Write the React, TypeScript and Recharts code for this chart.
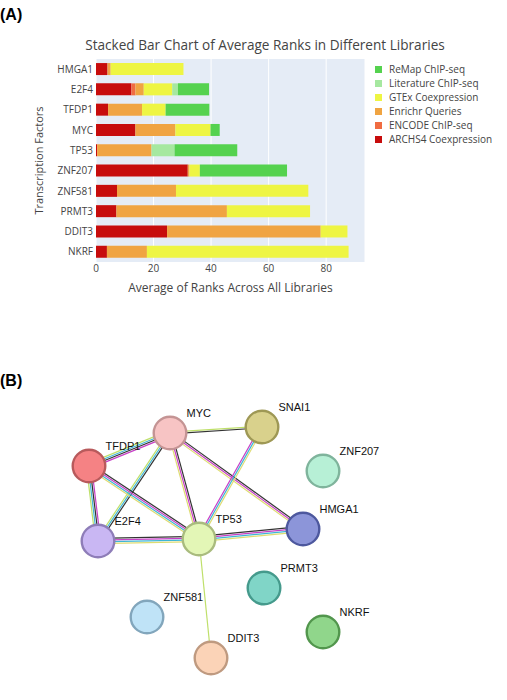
import React from 'react';
import {
  BarChart, Bar, XAxis, YAxis, CartesianGrid, Legend,
  ScatterChart, Scatter, ReferenceLine,
} from 'recharts';

// ---- Panel A: average ranks per library ----
const factors = ['HMGA1', 'E2F4', 'TFDP1', 'MYC', 'TP53', 'ZNF207', 'ZNF581', 'PRMT3', 'DDIT3', 'NKRF'];
const archs4 = [4.0, 12.3, 4.2, 13.7, 0.4, 31.9, 7.3, 7.1, 24.7, 3.8];
const encode = [0, 1.4, 0, 0, 0, 0, 0, 0, 0, 0];
const enrichr = [1.1, 2.9, 11.8, 13.9, 18.9, 0.6, 20.5, 38.4, 53.4, 13.9];
const gtex = [25.3, 9.9, 8.2, 12.2, 0, 3.6, 46.0, 28.9, 9.3, 70.1];
const literature = [0, 2.0, 0, 0, 8.0, 0, 0, 0, 0, 0];
const remap = [0, 10.8, 15.2, 3.2, 21.8, 30.3, 0, 0, 0, 0];
const xTicks = [0, 20, 40, 60, 80];

const series = [
  { key: 'archs4', name: 'ARCHS4 Coexpression', color: '#c70c0c', values: archs4 },
  { key: 'encode', name: 'ENCODE ChIP-seq', color: '#f06c42', values: encode },
  { key: 'enrichr', name: 'Enrichr Queries', color: '#f0a442', values: enrichr },
  { key: 'gtex', name: 'GTEx Coexpression', color: '#eef543', values: gtex },
  { key: 'literature', name: 'Literature ChIP-seq', color: '#a6e8a0', values: literature },
  { key: 'remap', name: 'ReMap ChIP-seq', color: '#55d24f', values: remap },
];

const barRows = factors.map((tf, i) => {
  const row: Record<string, number | string> = { tf };
  series.forEach((s) => { row[s.key] = s.values[i]; });
  return row;
});

// ---- Panel B: interaction network ----
const nodeNames = ['MYC', 'TFDP1', 'SNAI1', 'ZNF207', 'HMGA1', 'E2F4', 'TP53', 'PRMT3', 'ZNF581', 'DDIT3', 'NKRF'];
const nodeX = [170, 89, 262, 323, 303, 98, 199, 264, 147, 211, 323];
const nodeY = [103, 136, 97, 141, 199, 211, 209, 258, 287, 328, 302];
const nodeFill = ['#f7c4c4', '#f58284', '#d9d18c', '#b7f0d6', '#8c95d9', '#c9b7f3', '#e3f6b6', '#80d5c7', '#bfe3f7', '#fbd3b7', '#90d68b'];
const nodeStroke = ['#c49494', '#b85a5c', '#9e9855', '#7fb49c', '#4d589e', '#8e7db8', '#a9bb7e', '#459a8c', '#82a6bc', '#bf9a80', '#52964d'];

const K = '#333333';
const M = '#c63fc6';
const C = '#3fb6d6';
const G = '#bfe06a';
const Y = '#dedc72';
const edgeFrom = ['MYC', 'MYC', 'MYC', 'MYC', 'MYC', 'SNAI1', 'TFDP1', 'TFDP1', 'E2F4', 'TP53', 'TP53'];
const edgeTo = ['TFDP1', 'SNAI1', 'E2F4', 'TP53', 'HMGA1', 'TP53', 'E2F4', 'TP53', 'TP53', 'HMGA1', 'DDIT3'];
const edgeChannels = [
  [M, K, C, G],
  [G, K],
  [K, C, G],
  [K, M, Y],
  [K, M, Y],
  [Y, C, M],
  [M, K, C, G],
  [K, M, C, Y],
  [K, M, C, Y],
  [K, M, C, Y],
  [G],
];

const nodes = nodeNames.map((name, i) => ({
  name, x: nodeX[i], y: nodeY[i], fill: nodeFill[i], stroke: nodeStroke[i],
}));
const nodeByName = (n: string) => nodes[nodeNames.indexOf(n)];

// Draws one edge as a bundle of thin parallel lines, one per evidence channel.
const makeEdgeShape = (colors: string[]) => (props: any) => {
  const { x1, y1, x2, y2 } = props;
  const dx = x2 - x1;
  const dy = y2 - y1;
  const len = Math.hypot(dx, dy) || 1;
  const nx = -dy / len;
  const ny = dx / len;
  const gap = 1.7;
  const n = colors.length;
  return (
    <g>
      {colors.map((c, i) => {
        const o = (i - (n - 1) / 2) * gap;
        return (
          <line
            key={i}
            x1={x1 + nx * o}
            y1={y1 + ny * o}
            x2={x2 + nx * o}
            y2={y2 + ny * o}
            stroke={c}
            strokeWidth={1.2}
          />
        );
      })}
    </g>
  );
};

const NodeShape = (props: any) => {
  const { cx, cy, payload } = props;
  return (
    <g>
      <circle cx={cx} cy={cy} r={16.3} fill={payload.fill} stroke={payload.stroke} strokeWidth={2.4} />
      <text
        x={cx + 16.5}
        y={cy - 16}
        fontSize={11}
        fontFamily="'Liberation Sans', Arial, sans-serif"
        fill="#111"
      >
        {payload.name}
      </text>
    </g>
  );
};

const LegendBox = (props: any) => {
  const items = [...(props.payload || [])].reverse();
  return (
    <div style={{ fontFamily: "'Open Sans', sans-serif", fontSize: 10, color: '#444' }}>
      {items.map((it: any) => (
        <div key={it.value} style={{ display: 'flex', alignItems: 'center', height: 14 }}>
          <span style={{ width: 7, height: 7, background: it.color, display: 'inline-block', marginRight: 7 }} />
          <span>{it.value}</span>
        </div>
      ))}
    </div>
  );
};

const axisText = { fontSize: 10, fill: '#444', fontFamily: "'Open Sans', sans-serif" };

export default function App() {
  return (
    <div style={{ position: 'absolute', left: 0, top: 0, width: 507, height: 700, background: '#fff' }}>
      <div style={{ position: 'absolute', left: 0, top: 6, fontFamily: "'Liberation Sans', Arial, sans-serif", fontWeight: 'bold', fontSize: 16, color: '#000' }}>
        (A)
      </div>
      <div style={{ position: 'absolute', left: 0, top: 372, fontFamily: "'Liberation Sans', Arial, sans-serif", fontWeight: 'bold', fontSize: 16, color: '#000' }}>
        (B)
      </div>
      <div style={{ position: 'absolute', left: 0, width: 530, top: 35, textAlign: 'center', fontFamily: "'Open Sans', sans-serif", fontSize: 13.6, color: '#444' }}>
        Stacked Bar Chart of Average Ranks in Different Libraries
      </div>

      <div style={{ position: 'absolute', left: 0, top: 0 }}>
        <BarChart
          width={507}
          height={300}
          data={barRows}
          layout="vertical"
          margin={{ top: 59, right: 142, bottom: 8, left: 0 }}
          barCategoryGap="20%"
        >
          <CartesianGrid horizontal={false} stroke="#ffffff" fill="#e5ecf6" />
          <XAxis
            type="number"
            domain={[0, 93.5]}
            ticks={xTicks}
            allowDataOverflow
            height={30}
            tickSize={0}
            tickMargin={3}
            axisLine={false}
            tick={axisText}
            label={{ value: 'Average of Ranks Across All Libraries', position: 'insideBottom', offset: 0, style: { fontSize: 12, fill: '#444', fontFamily: "'Open Sans', sans-serif" } }}
          />
          <YAxis
            type="category"
            dataKey="tf"
            width={96}
            tickSize={0}
            tickMargin={3}
            axisLine={false}
            tick={axisText}
            interval={0}
            label={{ value: 'Transcription Factors', angle: -90, position: 'insideLeft', offset: 39, style: { textAnchor: 'middle', fontSize: 11, fill: '#444', fontFamily: "'Open Sans', sans-serif" } }}
          />
          <Legend
            layout="vertical"
            align="center"
            verticalAlign="middle"
            content={<LegendBox />}
            wrapperStyle={{ left: 375, top: 62, width: 130 }}
          />
          {series.map((s) => (
            <Bar key={s.key} dataKey={s.key} name={s.name} stackId="ranks" fill={s.color} isAnimationActive={false} />
          ))}
        </BarChart>
      </div>

      <div style={{ position: 'absolute', left: 0, top: 330 }}>
        <ScatterChart width={507} height={370} margin={{ top: 0, right: 0, bottom: 0, left: 0 }}>
          <XAxis type="number" dataKey="x" domain={[0, 507]} hide allowDataOverflow />
          <YAxis type="number" dataKey="y" domain={[0, 370]} reversed hide allowDataOverflow />
          {edgeFrom.map((f, i) => {
            const a = nodeByName(f);
            const b = nodeByName(edgeTo[i]);
            return (
              <ReferenceLine
                key={f + edgeTo[i]}
                segment={[{ x: a.x, y: a.y }, { x: b.x, y: b.y }]}
                ifOverflow="visible"
                shape={makeEdgeShape(edgeChannels[i])}
              />
            );
          })}
          <Scatter data={nodes} shape={<NodeShape />} isAnimationActive={false} />
        </ScatterChart>
      </div>
    </div>
  );
}
